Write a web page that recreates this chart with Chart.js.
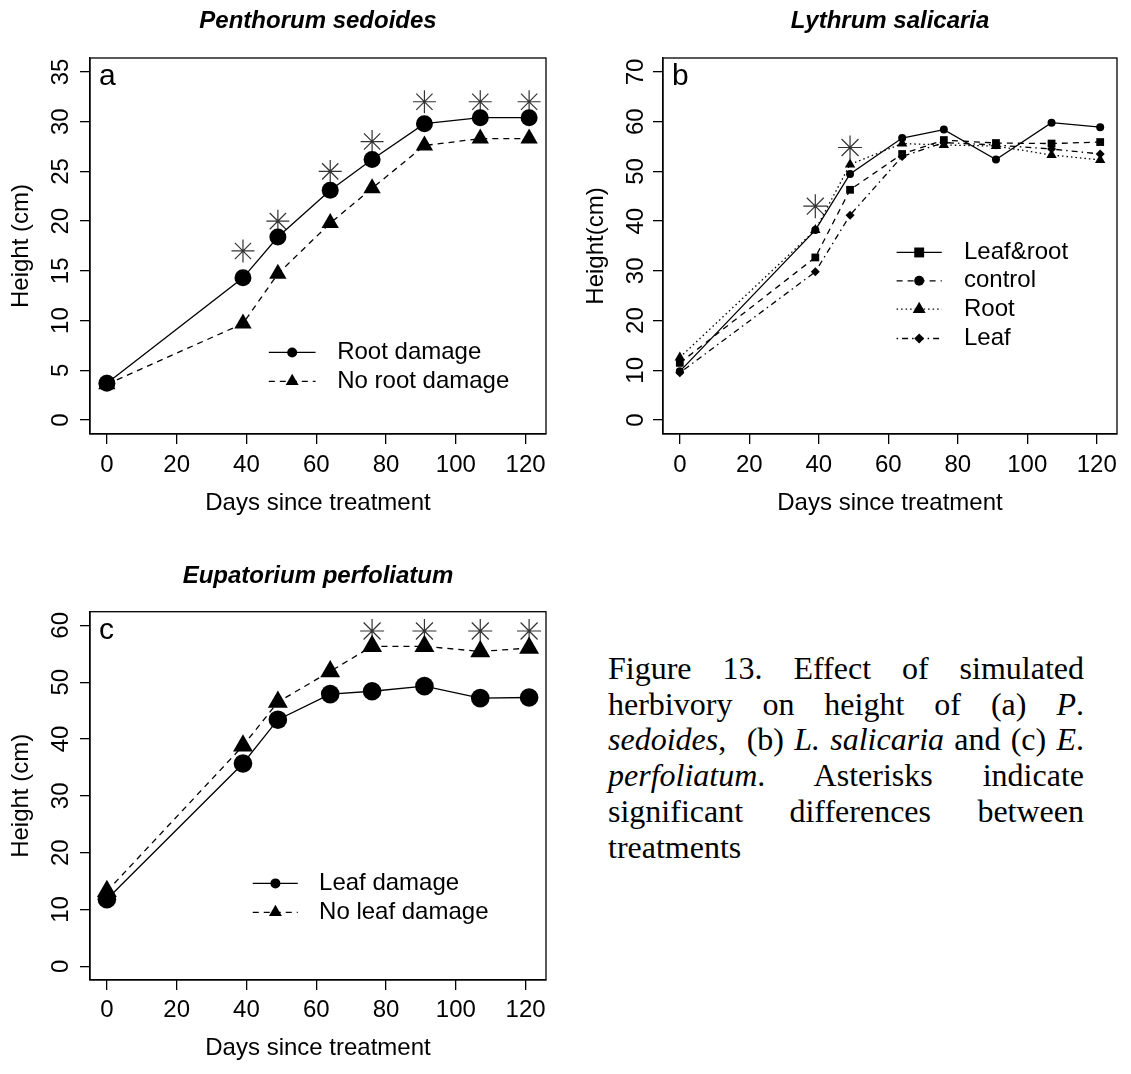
<!DOCTYPE html>
<html>
<head>
<meta charset="utf-8">
<script src="https://cdn.jsdelivr.net/npm/chart.js@4.4.1/dist/chart.umd.min.js"></script>
<style>
  html, body { margin: 0; padding: 0; background: #fff; }
  body { width: 1131px; height: 1074px; position: relative; overflow: hidden; }
  canvas { position: absolute; }
  #caption { position: absolute; left: 608px; top: 651px; width: 476px;
    font-family: "Liberation Serif", "Times New Roman", serif; font-size: 32px;
    line-height: 35.7px; color: #000; }
  #caption div { text-align: justify; text-align-last: justify; white-space: nowrap; }
  #caption div.last { text-align-last: left; }
</style>
</head>
<body>
<canvas id="panelA" width="600" height="540" style="left:0;top:0"></canvas>
<canvas id="panelB" width="558" height="540" style="left:573px;top:0"></canvas>
<canvas id="panelC" width="600" height="534" style="left:0;top:540px"></canvas>
<div id="caption">
  <div>Figure 13. Effect of simulated</div>
  <div>herbivory on height of (a) <i>P</i>.</div>
  <div><i>sedoides</i>,&nbsp; (b) <i>L. salicaria</i> and (c) <i>E</i>.</div>
  <div><i>perfoliatum</i>. Asterisks indicate</div>
  <div>significant differences between</div>
  <div class="last">treatments</div>
</div>
<script>
// days since treatment, shared by all three panels
const DAYS = [0, 39, 49, 64, 76, 91, 107, 121];
const X_TICKS = [0, 20, 40, 60, 80, 100, 120];

// (a) Penthorum sedoides
const A_ROOT_DAMAGE    = [3.7, 14.3, 18.4, 23.1, 26.2, 29.8, 30.4, 30.4];
const A_NO_ROOT_DAMAGE = [3.6, 9.7, 14.7, 19.8, 23.3, 27.6, 28.3, 28.3];
const A_SIGNIF         = [null, 17, 20, 25, 28, 32, 32, 32];
const A_Y_TICKS = [0, 5, 10, 15, 20, 25, 30, 35];
const A_LEGEND  = ['Root damage', 'No root damage'];

// (b) Lythrum salicaria
const B_LEAF_ROOT = [11.5, 32.7, 46.3, 53.5, 56.3, 55.7, 55.6, 55.9];
const B_CONTROL   = [9.8, 38.2, 49.5, 56.7, 58.4, 52.4, 59.8, 58.9];
const B_ROOT      = [12.6, 38.2, 51.4, 55.6, 55.3, 55.1, 53.3, 52.3];
const B_LEAF      = [9.5, 29.8, 41.2, 53.0, 55.8, 55.3, 54.5, 53.5];
const B_SIGNIF    = [null, 43, 54.8, null, null, null, null, null];
const B_Y_TICKS = [0, 10, 20, 30, 40, 50, 60, 70];
const B_LEGEND  = ['Leaf&root', 'control', 'Root', 'Leaf'];

// (c) Eupatorium perfoliatum
const C_LEAF_DAMAGE    = [11.8, 35.7, 43.4, 47.9, 48.4, 49.3, 47.2, 47.3];
const C_NO_LEAF_DAMAGE = [13.2, 38.8, 46.5, 51.9, 56.3, 56.3, 55.4, 56.0];
const C_SIGNIF         = [null, null, null, null, 59, 59, 59, 59];
const C_Y_TICKS = [0, 10, 20, 30, 40, 50, 60];
const C_LEGEND  = ['Leaf damage', 'No leaf damage'];

const FAMILY = '"Liberation Sans", Arial, Helvetica, sans-serif';
const FS = 24, LH = FS * 1.2, TICK_LEN = 10, LW = 1.3;
const SOLID = [], DASHED = [6, 5], DOTTED = [1.5, 3], DOTDASH = [1.5, 4, 6, 4];

const pts = ys => DAYS.map((d, i) => ({ x: d, y: ys[i] }));

function series(ys, dash, style, r) {
  return { data: pts(ys), borderColor: '#000', backgroundColor: '#000', borderWidth: LW,
    borderDash: dash, pointStyle: style, pointRadius: r, pointBorderWidth: 0,
    pointHoverRadius: r, tension: 0, fill: false, clip: false };
}
function stars(ys, r) {
  return { data: pts(ys), showLine: false, borderColor: '#333', backgroundColor: '#333',
    pointStyle: 'star', pointRadius: r, pointBorderWidth: 1.2, clip: false };
}

// box round the plot, panel letter and an R-style legend (line + symbol)
const rDecor = {
  id: 'rDecor',
  afterDatasetsDraw(chart, args, opts) {
    const { ctx, chartArea: a, scales: { x, y } } = chart;
    ctx.save();
    ctx.strokeStyle = '#000'; ctx.fillStyle = '#000'; ctx.lineWidth = LW;
    ctx.strokeRect(a.left, a.top, a.right - a.left, a.bottom - a.top);
    ctx.font = '30px ' + FAMILY;
    ctx.textBaseline = 'alphabetic';
    ctx.fillText(opts.letter, a.left + 9, a.top + 27);
    const L = opts.legend;
    ctx.font = FS + 'px ' + FAMILY;
    ctx.textBaseline = 'middle';
    L.labels.forEach((lab, i) => {
      const yy = y.getPixelForValue(L.rows[i]);
      const st = L.styles[i];
      ctx.setLineDash(st.dash);
      ctx.beginPath();
      ctx.moveTo(x.getPixelForValue(L.x0), yy);
      ctx.lineTo(x.getPixelForValue(L.x1), yy);
      ctx.stroke();
      ctx.setLineDash([]);
      Chart.helpers.drawPoint(ctx, { pointStyle: st.point, rotation: 0, radius: st.r, borderWidth: 0 },
        x.getPixelForValue(L.xm), yy);
      ctx.fillText(lab, x.getPixelForValue(L.xt), yy);
    });
    ctx.restore();
  }
};

function panel(id, geo, spec) {
  const canvas = document.getElementById(id);
  const titleTop = geo.titleCY - geo.top - LH / 2;
  return new Chart(canvas, {
    type: 'line',
    data: { datasets: spec.datasets },
    plugins: [rDecor],
    options: {
      responsive: false, animation: false, devicePixelRatio: 1,
      layout: { padding: { left: 0, top: 0, bottom: 0, right: geo.left + geo.w - geo.r } },
      scales: {
        x: {
          type: 'linear', min: -4.84, max: 125.84,
          afterBuildTicks: s => { s.ticks = X_TICKS.map(v => ({ value: v })); },
          afterFit: s => { s.height = geo.top + geo.h - geo.b; },
          ticks: { autoSkip: false, maxRotation: 0, color: '#000', font: { family: FAMILY, size: FS },
            padding: geo.xLabelCY - geo.b - TICK_LEN - LH / 2 },
          grid: { drawOnChartArea: false, drawTicks: true, tickLength: TICK_LEN, color: '#000', lineWidth: LW },
          border: { display: true, color: '#000', width: LW },
          title: { display: true, text: 'Days since treatment', color: '#000',
            font: { family: FAMILY, size: FS },
            padding: { top: 0, bottom: geo.top + geo.h - geo.xTitleCY - LH / 2 } }
        },
        y: {
          type: 'linear', min: spec.yMin, max: spec.yMax,
          afterBuildTicks: s => { s.ticks = spec.yTicks.map(v => ({ value: v })); },
          afterFit: s => { s.width = geo.l - geo.left; },
          ticks: { minRotation: 90, maxRotation: 90, crossAlign: 'center', color: '#000',
            font: { family: FAMILY, size: FS }, padding: geo.yLabelGap - TICK_LEN - 13.3 },
          grid: { drawOnChartArea: false, drawTicks: true, tickLength: TICK_LEN, color: '#000', lineWidth: LW },
          border: { display: true, color: '#000', width: LW },
          title: { display: true, text: spec.yTitle, color: '#000', font: { family: FAMILY, size: FS },
            padding: { top: geo.yTitleCX - geo.left - LH / 2, bottom: 0 } }
        }
      },
      plugins: {
        legend: { display: false },
        tooltip: { enabled: false },
        title: { display: true, fullSize: false, text: spec.title, color: '#000',
          font: { family: FAMILY, size: FS, weight: 'bold', style: 'italic' },
          padding: { top: titleTop, bottom: geo.t - geo.top - LH - titleTop } },
        rDecor: { letter: spec.letter, legend: spec.legend }
      }
    }
  });
}

panel('panelA',
  { left: 0, top: 0, w: 600, h: 540, l: 90, r: 546, t: 58, b: 434,
    titleCY: 21.5, xLabelCY: 465, xTitleCY: 503, yTitleCX: 21.5, yLabelGap: 29 },
  { title: 'Penthorum sedoides', yTitle: 'Height (cm)', letter: 'a',
    yMin: -1.4, yMax: 36.4, yTicks: A_Y_TICKS,
    datasets: [
      series(A_ROOT_DAMAGE, SOLID, 'circle', 8.5),
      series(A_NO_ROOT_DAMAGE, DASHED, 'triangle', 10),
      stars(A_SIGNIF, 11.5)
    ],
    legend: { labels: A_LEGEND, x0: 46.4, x1: 59.8, xm: 53.1, xt: 66, rows: [6.8, 3.9],
      styles: [{ dash: SOLID, point: 'circle', r: 5 }, { dash: DASHED, point: 'triangle', r: 7.5 }] } });

panel('panelB',
  { left: 573, top: 0, w: 558, h: 540, l: 663, r: 1117, t: 58, b: 434,
    titleCY: 21.5, xLabelCY: 465, xTitleCY: 503, yTitleCX: 596, yLabelGap: 27 },
  { title: 'Lythrum salicaria', yTitle: 'Height(cm)', letter: 'b',
    yMin: -2.8, yMax: 72.8, yTicks: B_Y_TICKS,
    datasets: [
      series(B_LEAF_ROOT, DASHED, 'rect', 5.5),
      series(B_CONTROL, SOLID, 'circle', 4),
      series(B_ROOT, DOTTED, 'triangle', 6),
      series(B_LEAF, DOTDASH, 'rectRot', 4.5),
      stars(B_SIGNIF, 12)
    ],
    legend: { labels: B_LEGEND, x0: 62.4, x1: 75.4, xm: 68.9, xt: 81.8, rows: [33.7, 28.0, 22.3, 16.4],
      styles: [{ dash: SOLID, point: 'rect', r: 7 }, { dash: DASHED, point: 'circle', r: 5 },
               { dash: DOTTED, point: 'triangle', r: 7.5 }, { dash: DOTDASH, point: 'rectRot', r: 5 }] } });

panel('panelC',
  { left: 0, top: 540, w: 600, h: 534, l: 90, r: 546, t: 611.7, b: 980,
    titleCY: 576.7, xLabelCY: 1010, xTitleCY: 1048, yTitleCX: 21.5, yLabelGap: 29 },
  { title: 'Eupatorium perfoliatum', yTitle: 'Height (cm)', letter: 'c',
    yMin: -2.4, yMax: 62.4, yTicks: C_Y_TICKS,
    datasets: [
      series(C_LEAF_DAMAGE, SOLID, 'circle', 9.3),
      series(C_NO_LEAF_DAMAGE, DASHED, 'triangle', 11.5),
      stars(C_SIGNIF, 12)
    ],
    legend: { labels: C_LEGEND, x0: 41.8, x1: 54.7, xm: 48.3, xt: 60.8, rows: [14.6, 9.5],
      styles: [{ dash: SOLID, point: 'circle', r: 5 }, { dash: DASHED, point: 'triangle', r: 7.5 }] } });
</script>
</body>
</html>
